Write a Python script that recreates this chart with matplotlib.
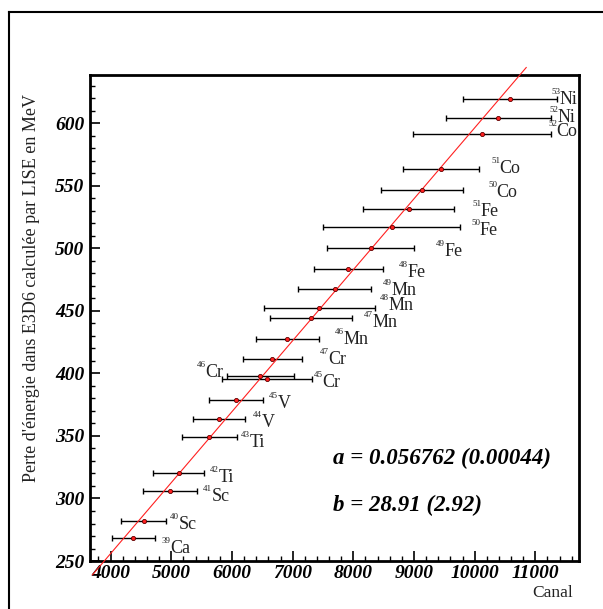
import matplotlib
matplotlib.use('Agg')
import matplotlib.pyplot as plt
from matplotlib.ticker import MultipleLocator
from matplotlib.lines import Line2D

plt.rcParams['font.family'] = ['Liberation Serif', 'DejaVu Serif']

# ---------------- data ----------------
elements = ['Ni', 'Ni', 'Co', 'Co', 'Co', 'Fe', 'Fe', 'Fe', 'Fe', 'Mn', 'Mn', 'Mn', 'Mn',
            'Cr', 'Cr', 'Cr', 'V', 'V', 'Ti', 'Ti', 'Sc', 'Sc', 'Ca']
masses = [53, 52, 52, 51, 50, 51, 50, 49, 48, 49, 48, 47, 46,
          47, 46, 45, 45, 44, 43, 42, 41, 40, 39]
canal = [10580, 10390, 10120, 9445, 9135, 8910, 8635, 8285, 7920, 7695, 7440, 7300, 6915,
         6665, 6470, 6575, 6060, 5780, 5625, 5125, 4980, 4545, 4375]
canal_err = [780, 865, 1140, 625, 680, 750, 1130, 720, 570, 600, 910, 680, 525,
             485, 555, 740, 445, 430, 450, 420, 450, 370, 355]
energie = [619.6, 604.6, 591.8, 563.6, 546.8, 531.2, 516.8, 500.2, 483.4, 467.4, 452.6, 444.6, 427.8,
           411.8, 397.8, 395.4, 378.6, 363.4, 349.4, 320.2, 305.8, 282.0, 268.2]
fit_a = 0.056762
fit_a_err = 0.00044
fit_b = 28.91
fit_b_err = 2.92
fit_range = [3700, 10850]
xticks = [4000, 5000, 6000, 7000, 8000, 9000, 10000, 11000]
yticks = [250, 300, 350, 400, 450, 500, 550, 600]

# label anchor positions in reference pixels (left, baseline)
label_px = [(551, 104), (549, 122), (548, 136), (491, 173), (488, 197), (472, 216), (471, 235),
            (436, 256), (399, 277), (383, 295), (380, 310), (364, 327), (335, 344),
            (320, 364), (197, 377), (314, 387), (269, 408), (253, 427), (241, 447),
            (210, 482), (203, 501), (170, 529), (162, 553)]

W, H = 603, 609
fig = plt.figure(figsize=(W / 100, H / 100), dpi=100)

def fx(px):
    return px / W

def fy(py):
    return 1 - py / H

ax = fig.add_axes([fx(90), fy(561), (579 - 90) / W, (561 - 75) / H])
ax.set_xlim(3660, 11720)
ax.set_ylim(250, 638.8)

# fit line (extends slightly beyond the frame as in the reference)
fx_line = fit_range
fy_line = [fit_a * v + fit_b for v in fx_line]
ax.plot(fx_line, fy_line, color='#ff2020', lw=0.8, clip_on=False, zorder=3)

ax.errorbar(canal, energie, xerr=canal_err, fmt='none', ecolor='black', elinewidth=1.0,
            capsize=2.5, capthick=1.0, zorder=2)
ax.plot(canal, energie, 'o', ms=3, mfc='#ff2020', mec='#600000', mew=0.6, zorder=4)

# axes styling
for s in ax.spines.values():
    s.set_linewidth(2.0)
ax.set_xticks(xticks)
ax.set_yticks(yticks)
ax.xaxis.set_minor_locator(MultipleLocator(200))
ax.yaxis.set_minor_locator(MultipleLocator(10))
ax.tick_params(which='major', direction='in', length=7, width=1.2, top=False, right=False)
ax.tick_params(which='minor', direction='in', length=3.5, width=1.0, top=False, right=False)
tickfont = dict(family='Liberation Serif', weight='bold', style='italic', size=14)
ax.set_xticklabels([str(t) for t in xticks], fontdict=tickfont)
ax.set_yticklabels([str(t) for t in yticks], fontdict=tickfont)
ax.tick_params(axis='x', pad=3)
ax.tick_params(axis='y', pad=4)

# nuclide labels: small superscript mass number + element symbol
for el, m, (px, py) in zip(elements, masses, label_px):
    fig.text(fx(px), fy(py - 10), str(m), fontsize=6.5, ha='left', va='baseline', color='#222222')
    fig.text(fx(px + 8.5), fy(py), el, fontsize=13, ha='left', va='baseline', color='#222222')

# axis titles
fig.text(fx(32), fy(288), "Perte d'énergie dans E3D6 calculée par LISE en MeV",
         rotation=90, ha='center', va='center', fontsize=13, color='#222222')
fig.text(fx(553), fy(593), 'Canal', ha='center', va='center', fontsize=12.5, color='#222222')

# fit results
bi = dict(family='Liberation Serif', weight='bold', style='italic', size=16.5)
fig.text(fx(333), fy(458), 'a = %.6f (%.5f)' % (fit_a, fit_a_err), ha='left', va='center', **bi)
fig.text(fx(333), fy(505), 'b = %.2f (%.2f)' % (fit_b, fit_b_err), ha='left', va='center', **bi)

# outer canvas frame
fig.add_artist(Line2D([fx(8.5), fx(8.5)], [fy(12), fy(612)], transform=fig.transFigure,
                      color='black', lw=1.5))
fig.add_artist(Line2D([fx(8.5), fx(606)], [fy(12), fy(12)], transform=fig.transFigure,
                      color='black', lw=1.5))

fig.savefig('out.png', dpi=100)
